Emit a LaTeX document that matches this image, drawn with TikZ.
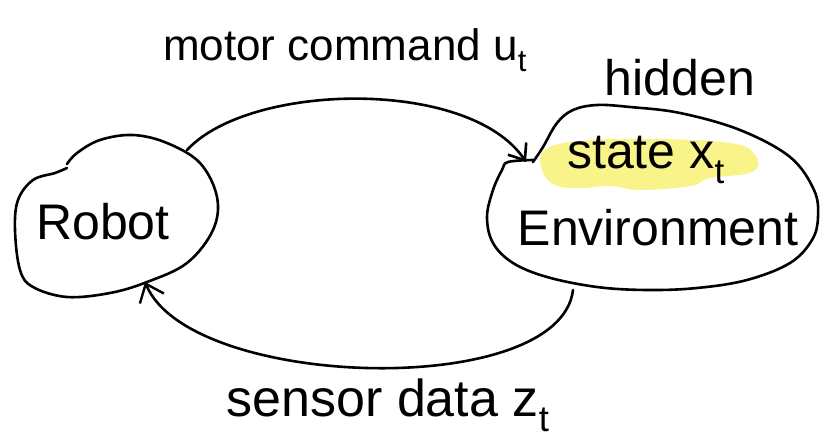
\documentclass[tikz,border=0pt]{standalone}
\usepackage{fontspec}
\setmainfont{Liberation Sans}
\usetikzlibrary{arrows.meta}
\definecolor{hilite}{HTML}{F8F48A}
\tikzset{
  blob/.style={draw=black, line width=2.6pt, line join=round, line cap=round},
  conn/.style={draw=black, line width=2.6pt, line cap=round},
  lbl/.style={inner sep=0pt},
}
\newcommand{\sz}[1]{\fontsize{#1}{#1}\selectfont}
\begin{document}
\begin{tikzpicture}[x=1pt,y=-1pt]
\useasboundingbox (0,0) rectangle (824,439);
\fill[white] (0,0) rectangle (824,439);
% Robot blob
\draw[blob] plot[smooth, tension=0.6] coordinates {(67,168) (55,173) (33,180) (18,200) (15,230) (20,270) (33,287) (67,297) (110,293) (147,282) (187,263) (213,230) (217,197) (200,163) (167,143) (133,135) (100,140) (77,153) (67,164)};
% Environment blob
\draw[blob] plot[smooth, tension=0.6] coordinates {(533,160) (508,162) (502,170) (493,190) (487,217) (493,243) (513,263) (547,277) (597,287) (647,290) (697,288) (747,280) (790,263) (812,240) (818,217) (814,190) (790,157) (740,130) (680,113) (630,107) (597,105) (573,110) (557,123) (543,147) (533,162)};
% highlight
\fill[hilite] plot[smooth cycle, tension=0.7] coordinates {(545,150) (580,141) (650,139) (730,143) (755,155) (752,172) (710,178) (690,186) (640,190) (610,186) (580,188) (555,185) (542,170)};
% nodes
\node[lbl, font=\sz{50}] (robot) at (103,222) {Robot};
\node[lbl, font=\sz{50}] (env) at (658,228) {Environment};
\node[lbl, font=\sz{50}] (state) at (646,160) {state x\textsubscript{t}};
\node[lbl, font=\sz{50}] (hidden) at (680,78) {hidden};
\node[lbl, font=\sz{44}] (motor) at (345,50) {motor command u\textsubscript{t}};
\node[lbl, font=\sz{52}] (sensor) at (388,405) {sensor data z\textsubscript{t}};
% connectors
\coordinate (rout) at (187,150);
\coordinate (ein) at (526,162);
\coordinate (eout) at (573,290);
\coordinate (rin) at (145,282);
\draw[conn, -{Straight Barb[length=14pt,width=22pt,line width=2.6pt]}] (rout) .. controls (250,82) and (470,78) .. (ein);
\draw[conn, -{Straight Barb[length=16pt,width=26pt,line width=2.4pt]}] (eout) .. controls (560,400) and (190,390) .. (rin);
\end{tikzpicture}
\end{document}
